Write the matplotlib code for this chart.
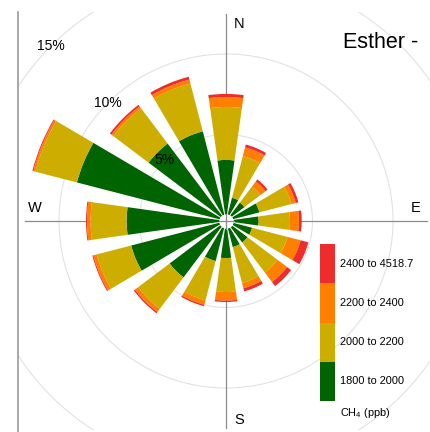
import numpy as np
import matplotlib
matplotlib.use("Agg")
import matplotlib.pyplot as plt
from matplotlib.lines import Line2D
from matplotlib.transforms import Bbox, TransformedBbox

plt.rcParams['font.family'] = ['Liberation Sans', 'DejaVu Sans']
plt.rcParams['mathtext.default'] = 'regular'

# ---------------- data ----------------
directions = [0, 22.5, 45, 67.5, 90, 112.5, 135, 157.5,
              180, 202.5, 225, 247.5, 270, 292.5, 315, 337.5]
# frequency (%) of each CH4 concentration bin per wind sector
freq_1800_2000 = [3.42, 1.12, 1.06, 1.77, 1.65, 1.30, 1.30, 1.30,
                  1.93, 2.20, 4.01, 5.71, 5.80, 9.19, 5.65, 5.38]
freq_2000_2200 = [3.29, 2.67, 1.24, 2.05, 1.95, 2.27, 2.34, 2.30,
                  2.11, 2.52, 2.45, 2.21, 2.24, 2.67, 2.74, 3.07]
freq_2200_2400 = [0.62, 0.56, 0.40, 0.28, 0.56, 0.84, 0.73, 0.34,
                  0.53, 0.28, 0.25, 0.22, 0.22, 0.13, 0.15, 0.25]
freq_2400_4519 = [0.19, 0.18, 0.16, 0.17, 0.17, 0.50, 0.32, 0.20,
                  0.09, 0.09, 0.09, 0.06, 0.06, 0.06, 0.12, 0.18]
bin_labels = ["1800 to 2000", "2000 to 2200", "2200 to 2400", "2400 to 4518.7"]
bin_colors = ["#006400", "#CDAD00", "#FF7F00", "#EE2C2C"]
ring_levels = [5, 10, 15]
compass = ["N", "E", "S", "W"]
title_text = "Esther -"
key_title = "CH$_4$ (ppb)"

series = [freq_1800_2000, freq_2000_2200, freq_2200_2400, freq_2400_4519]

# ---------------- layout ----------------
W, H = 430, 432
fig = plt.figure(figsize=(W / 100, H / 100), dpi=100)

cx, cy = 226, 221          # centre, pixels from top-left
px_per_pct = 16.1
hole_px = 6
r0 = -hole_px / px_per_pct
rmax = 12.5
R = (rmax - r0) * px_per_pct
ax = fig.add_axes([(cx - R) / W, (H - cy - R) / H, 2 * R / W, 2 * R / H],
                  projection='polar')
ax.set_theta_zero_location('N')
ax.set_theta_direction(-1)
ax.set_rlim(0, rmax)
ax.set_rorigin(r0)
ax.axis('off')

panel = TransformedBbox(Bbox.from_extents(18 / W, (H - 430) / H, 434 / W, (H - 12) / H),
                        fig.transFigure)

# grid rings
t = np.linspace(0, 2 * np.pi, 1441)
for lv in ring_levels:
    ln, = ax.plot(t, np.full_like(t, lv), color='#E2E2E2', lw=0.8, zorder=0.5)
    ln.set_clip_path(None)
    ln.set_clip_box(panel)

# axis lines
axis_col = '#8C8C8C'
for ang, rend in [(0, 12.48), (180, 12.48), (90, 12.11), (270, 12.11)]:
    ax.plot([np.deg2rad(ang)] * 2, [r0, rend], color=axis_col, lw=0.9,
            zorder=1, clip_on=False)

# stacked bars
theta = np.deg2rad(directions)
width = np.deg2rad(16)
bottom = np.zeros(len(directions))
for vals, col in zip(series, bin_colors):
    vals = np.asarray(vals)
    ax.bar(theta, vals, width=width, bottom=bottom, color=col,
           linewidth=0, zorder=2)
    bottom = bottom + vals

# centre disc with cross
ax.plot([0], [r0], 'o', ms=10.4, mfc='white', mec='none', zorder=3, clip_on=False)
for ang in [0, 90, 180, 270]:
    ax.plot([np.deg2rad(ang)] * 2, [r0, r0 + 7.5 / px_per_pct], color=axis_col,
            lw=0.9, zorder=4, clip_on=False)

# ring labels
for lv in ring_levels:
    ax.text(np.deg2rad(315), lv, f"{lv}%", ha='center', va='center',
            fontsize=10, zorder=5, clip_on=False)

# compass labels
pos = {"N": (239, 24), "E": (416, 207.5), "S": (239.5, 420), "W": (35, 207.5)}
for c in compass:
    x, y = pos[c]
    fig.text(x / W, 1 - y / H, c, ha='center', va='center', fontsize=10.5)

# panel border (left)
fig.add_artist(Line2D([18 / W, 18 / W], [1 - 12 / H, 0], transform=fig.transFigure,
                      color='#999999', lw=1.2))

# title
fig.text(343 / W, 1 - 48 / H, title_text, ha='left', va='baseline', fontsize=15.5)

# colour key
kax = fig.add_axes([320 / W, 1 - 401 / H, 15 / W, 157 / H])
for i, (lab, col) in enumerate(zip(bin_labels, bin_colors)):
    kax.bar(0, 1, bottom=i, width=1, color=col, linewidth=0)
    kax.text(20 / 15, i + 0.5, lab, transform=kax.get_yaxis_transform(),
             ha='left', va='center', fontsize=7.9)
kax.set_xlim(-0.5, 0.5)
kax.set_ylim(0, len(bin_labels))
kax.axis('off')
fig.text(340 / W, 1 - 412.7 / H, key_title, ha='left', va='center', fontsize=7.9)

fig.savefig("out.png", dpi=100)
